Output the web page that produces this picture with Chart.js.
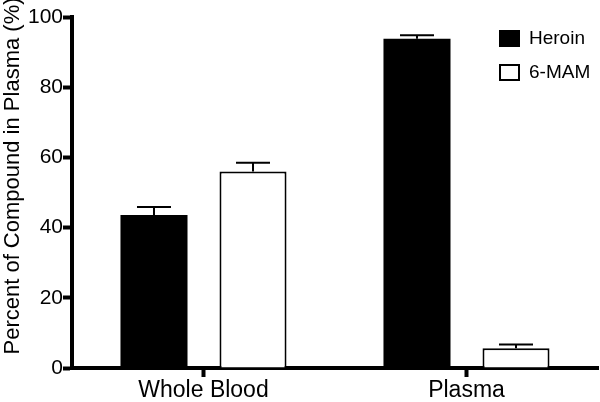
<!DOCTYPE html>
<html>
<head>
<meta charset="utf-8">
<script src="https://cdn.jsdelivr.net/npm/chart.js@4/dist/chart.umd.min.js"></script>
<style>
  html, body { margin: 0; padding: 0; background: #fff; }
  #wrap { width: 600px; height: 402px; position: relative; }
</style>
</head>
<body>
<div id="wrap"><canvas id="chart" width="600" height="402"></canvas></div>
<script>
const categories = ["Whole Blood", "Plasma"];
const heroinValues = [43.6, 93.8];
const heroinErrors = [2.3, 1.0];
const mamValues = [56.0, 5.6];
const mamErrors = [2.5, 1.1];
const yTicks = [0, 20, 40, 60, 80, 100];

const FONT = "'Liberation Sans', Arial, Helvetica, sans-serif";

// upward-only error bars with a cap, like the Prism original
const errorBars = {
  id: "errorBars",
  afterDatasetsDraw(chart) {
    const ctx = chart.ctx;
    const y = chart.scales.y;
    ctx.save();
    ctx.strokeStyle = "#000";
    ctx.lineWidth = 2;
    chart.data.datasets.forEach((ds, i) => {
      const meta = chart.getDatasetMeta(i);
      meta.data.forEach((bar, j) => {
        const top = y.getPixelForValue(ds.data[j]);
        const cap = y.getPixelForValue(ds.data[j] + ds.errors[j]);
        ctx.beginPath();
        ctx.moveTo(bar.x, top);
        ctx.lineTo(bar.x, cap);
        ctx.moveTo(bar.x - 17, cap);
        ctx.lineTo(bar.x + 17, cap);
        ctx.stroke();
      });
    });
    ctx.restore();
  }
};

const boxLegend = {
  id: "boxLegend",
  afterDraw(chart) {
    const ctx = chart.ctx;
    ctx.save();
    ctx.font = "19px " + FONT;
    ctx.textBaseline = "middle";
    chart.data.datasets.forEach((ds, i) => {
      const top = 30 + i * 34;
      ctx.fillStyle = ds.backgroundColor;
      ctx.fillRect(499, top, 21, 17);
      ctx.strokeStyle = "#000";
      ctx.lineWidth = 2;
      ctx.strokeRect(500, top + 1, 19, 15);
      ctx.fillStyle = "#000";
      ctx.fillText(ds.label, 529, top + 9);
    });
    ctx.translate(13, 176);
    ctx.rotate(-Math.PI / 2);
    ctx.font = "22px " + FONT;
    ctx.textAlign = "center";
    ctx.fillText("Percent of Compound in Plasma (%)", 0, 0);
    ctx.restore();
  }
};

new Chart(document.getElementById("chart"), {
  type: "bar",
  data: {
    labels: categories,
    datasets: [
      {
        label: "Heroin",
        data: heroinValues,
        errors: heroinErrors,
        backgroundColor: "#000",
        borderColor: "#000",
        borderWidth: 0
      },
      {
        label: "6-MAM",
        data: mamValues,
        errors: mamErrors,
        backgroundColor: "#fff",
        borderColor: "#000",
        borderWidth: 2
      }
    ]
  },
  options: {
    responsive: false,
    animation: false,
    categoryPercentage: 0.753,
    barPercentage: 0.677,
    layout: { padding: { top: 17, right: 2, left: 0, bottom: 0 } },
    plugins: {
      legend: { display: false },
      tooltip: { enabled: false }
    },
    scales: {
      x: {
        z: 1,
        afterFit(scale) { scale.height = 34; },
        grid: { offset: false, drawOnChartArea: false, tickLength: 9, tickWidth: 4, tickColor: "#000" },
        border: { display: true, color: "#000", width: 4 },
        ticks: { color: "#000", padding: 0, font: { family: FONT, size: 23 } }
      },
      y: {
        z: 1,
        min: 0,
        max: 100,
        afterFit(scale) { scale.width = 72; },
        afterBuildTicks(scale) { scale.ticks = yTicks.map((v) => ({ value: v })); },
        grid: { drawOnChartArea: false, tickLength: 9, tickWidth: 4, tickColor: "#000" },
        border: { display: true, color: "#000", width: 4 },
        ticks: { color: "#000", padding: 0, font: { family: FONT, size: 21 } }
      }
    }
  },
  plugins: [errorBars, boxLegend]
});
</script>
</body>
</html>
